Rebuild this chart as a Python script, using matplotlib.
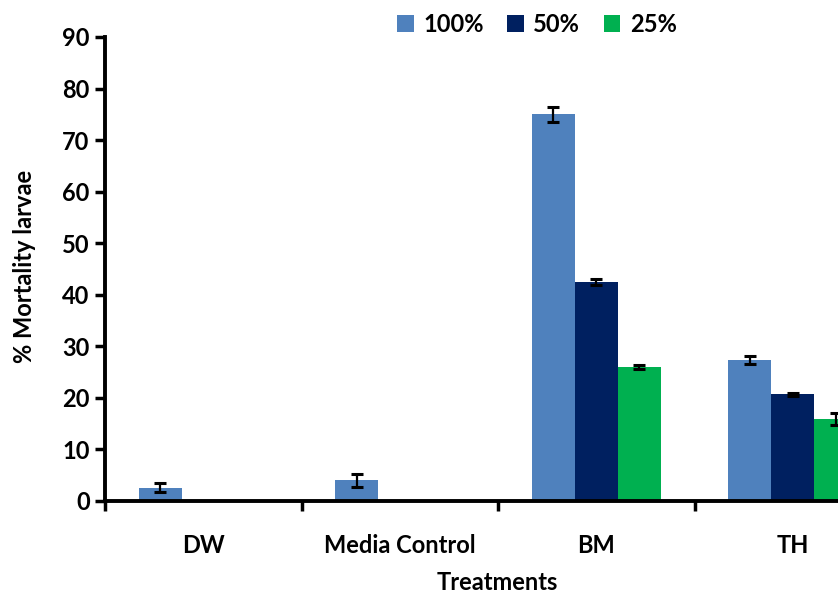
import matplotlib
matplotlib.use("Agg")
import matplotlib.pyplot as plt
import numpy as np

# Mortality of larvae per treatment and concentration (%)
categories = ["DW", "Media Control", "BM", "TH"]
series_names = ["100%", "50%", "25%"]
mort_100 = [2.6, 4.0, 75.0, 27.4]
mort_50 = [np.nan, np.nan, 42.5, 20.7]
mort_25 = [np.nan, np.nan, 26.0, 15.9]
err_100 = [0.8, 1.2, 1.4, 0.8]
err_50 = [np.nan, np.nan, 0.6, 0.25]
err_25 = [np.nan, np.nan, 0.4, 1.1]
y_ticks = [0, 10, 20, 30, 40, 50, 60, 70, 80, 90]

colors = ["#4F81BD", "#002060", "#00B050"]

plt.rcParams["font.family"] = ["Lato", "DejaVu Sans"]
plt.rcParams["font.weight"] = "bold"

W, H = 838, 596
fig = plt.figure(figsize=(W / 100, H / 100), dpi=100)
# axes runs past the right edge of the canvas
ax = fig.add_axes([105 / W, 1 - 501 / H, 786 / W, 464 / H])

x = np.arange(len(categories)) + 0.5
bw = 0.219
values = [mort_100, mort_50, mort_25]
errors = [err_100, err_50, err_25]
handles = []
for i, (vals, errs, col) in enumerate(zip(values, errors, colors)):
    pos = x + (i - 1) * bw
    b = ax.bar(pos, vals, width=bw, color=col, edgecolor="none", zorder=2)
    ax.errorbar(pos, vals, yerr=errs, fmt="none", ecolor="black",
                elinewidth=1.6, capsize=4.5, capthick=2.2, zorder=3)
    handles.append(b)

fs = 17
ax.set_xlim(0, len(categories))
ax.set_ylim(0, 90)
ax.set_yticks(y_ticks)
ax.set_yticklabels([str(t) for t in y_ticks], fontsize=fs, fontweight="bold")
ax.set_xticks(np.arange(len(categories) + 1))
ax.set_xticklabels([])
ax.set_xticks(x, minor=True)
ax.set_xticklabels(categories, minor=True, fontsize=fs, fontweight="bold")
ax.tick_params(axis="x", which="minor", length=0, pad=24)
ax.tick_params(axis="x", which="major", length=7, width=2.5, direction="out")
ax.tick_params(axis="y", length=7, width=2.5, direction="out", pad=4)

for s in ["top", "right"]:
    ax.spines[s].set_visible(False)
for s in ["left", "bottom"]:
    ax.spines[s].set_linewidth(2.8)
    ax.spines[s].set_zorder(4)

fig.text(497 / W, 1 - 583 / H, "Treatments", ha="center", va="center",
         fontsize=fs, fontweight="bold")
fig.text(25 / W, 1 - 266 / H, "% Mortality larvae", ha="center", va="center",
         rotation=90, fontsize=fs, fontweight="bold")

leg = fig.legend(handles, series_names, loc="center", ncol=3, frameon=False,
                 bbox_to_anchor=(537 / W, 1 - 24 / H), fontsize=fs,
                 handlelength=0.7, handleheight=0.7, handletextpad=0.4,
                 columnspacing=1.0)

fig.savefig("out.png", dpi=100)
